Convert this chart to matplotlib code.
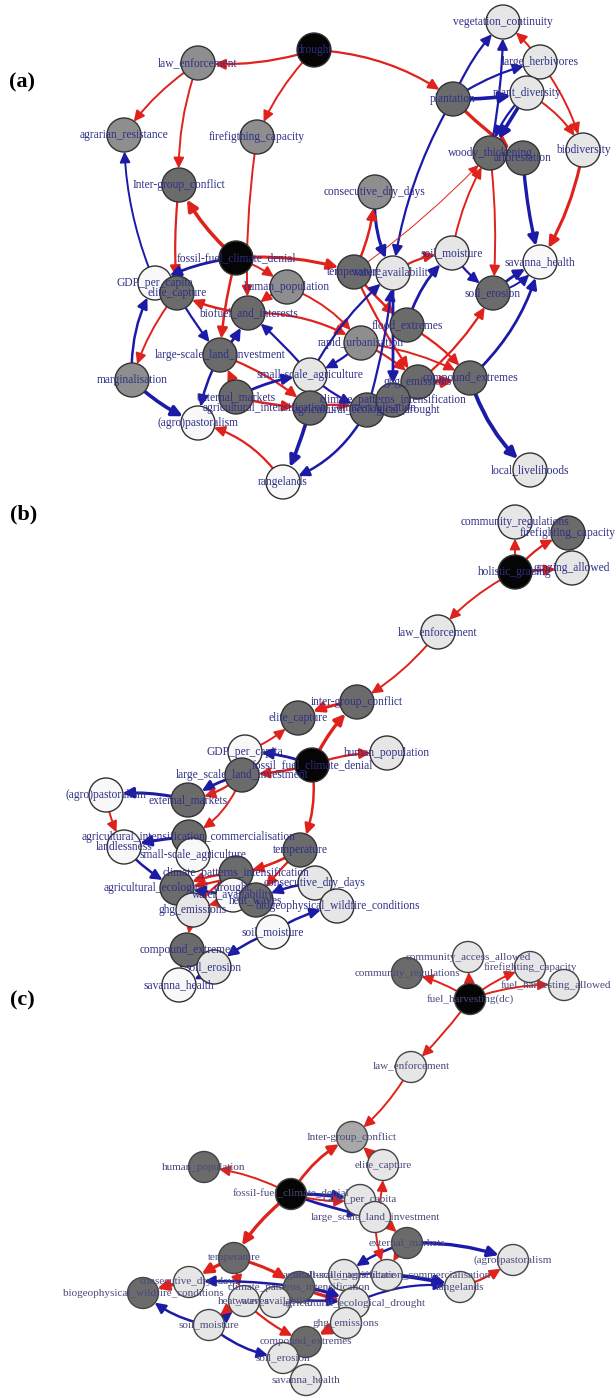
import matplotlib
matplotlib.use("Agg")
import matplotlib.pyplot as plt
from matplotlib.patches import Circle, FancyArrowPatch

# ---------------- data ----------------
SHADES = {"k": "#050505", "d": "#6b6b6b", "g": "#8e8e8e", "m": "#a8a8a8",
          "l": "#e6e6e6", "w": "#f8f8f8"}
SIGN_COLORS = {1: "#e0221c", -1: "#1b1ba8"}

# Panel (a)
a_ids = ["drought", "law", "agrarian", "firefight", "intergroup", "plantation",
         "vegcont", "herbiv", "plantdiv", "woody", "affor", "biodiv", "cdd",
         "fossil", "gdp", "elite", "humpop", "biofuel", "temp", "water",
         "soilmoist", "savanna", "soileros", "flood", "urban", "lsli", "margin",
         "smallag", "extmkt", "agcomm", "ghg", "compound", "ecodrought", "cpi",
         "pastoral", "rangelands", "livelihoods"]
a_labels = ["drought", "law_enforcement", "agrarian_resistance", "firefigthing_capacity",
            "Inter-group_conflict", "plantation", "vegetation_continuity", "large_herbivores",
            "plant_diversity", "woody_thickening", "afforestation", "biodiversity",
            "consecutive_dry_days", "fossil-fuel_climate_denial", "GDP_per_capita",
            "elite_capture", "human_population", "biofuel_and_interests", "temperature",
            "water_availability", "soil_moisture", "savanna_health", "soil_erosion",
            "flood_extremes", "rapid_urbanisation", "large-scale_land_investment",
            "marginalisation", "small-scale_agriculture", "external_markets",
            "agricultural_intensification_commercialisation", "ghg_emissions",
            "compound_extremes", "agricultural_ecological_drought",
            "climate_patterns_intensification", "(agro)pastoralism", "rangelands",
            "local_livelihoods"]
a_x = [314, 198, 124, 257, 179, 453, 503, 540, 527, 490, 523, 583, 375,
       236, 155, 177, 287, 248, 354, 393, 452, 540, 493, 407, 361, 220, 132,
       310, 236, 310, 418, 470, 367, 393, 198, 283, 530]
a_y = [50, 63, 135, 137, 185, 99, 22, 62, 93, 153, 158, 150, 192,
       258, 283, 293, 287, 313, 272, 273, 253, 262, 293, 325, 343, 355, 380,
       375, 397, 408, 382, 378, 410, 400, 423, 482, 470]
a_shade = ["k", "g", "g", "g", "d", "d", "l", "l", "l", "d", "d", "l", "g",
           "k", "w", "d", "g", "d", "d", "l", "l", "w", "d", "d", "g", "d", "g",
           "l", "d", "d", "d", "d", "d", "d", "w", "w", "l"]
a_edges = [
    ("drought", "law", 1, 1.6, -0.1), ("drought", "firefight", 1, 1.4, 0.1),
    ("drought", "plantation", 1, 1.6, -0.15), ("law", "agrarian", 1, 1.4, 0.1),
    ("law", "intergroup", 1, 1.4, 0.1), ("firefight", "biofuel", 1, 1.4, 0.05),
    ("intergroup", "elite", 1, 1.6, 0.05), ("fossil", "intergroup", 1, 2.6, -0.1),
    ("gdp", "agrarian", -1, 1.4, -0.1), ("plantation", "vegcont", -1, 1.6, -0.1),
    ("plantation", "herbiv", -1, 1.6, -0.1), ("plantation", "plantdiv", -1, 2.6, 0.05),
    ("plantation", "water", -1, 1.6, 0.1), ("plantation", "affor", 1, 2.4, 0.05),
    ("plantdiv", "woody", -1, 2.6, 0.0), ("plantdiv", "woody", -1, 1.6, 0.15),
    ("woody", "vegcont", -1, 1.6, 0.05), ("herbiv", "vegcont", 1, 1.4, 0.1),
    ("herbiv", "biodiv", 1, 1.4, -0.1), ("plantdiv", "biodiv", 1, 1.4, -0.15),
    ("affor", "savanna", -1, 2.4, 0.05), ("biodiv", "savanna", 1, 2.2, -0.1),
    ("temp", "woody", 1, 0.7, 0.05), ("cdd", "water", -1, 2.2, 0.15),
    ("temp", "cdd", 1, 1.8, 0.1), ("soilmoist", "woody", 1, 1.4, -0.1),
    ("woody", "soileros", 1, 1.4, -0.05), ("water", "soilmoist", 1, 1.6, -0.15),
    ("soilmoist", "soileros", -1, 1.6, 0.1), ("soileros", "savanna", -1, 2.0, -0.1),
    ("soileros", "savanna", -1, 1.4, 0.2), ("fossil", "temp", 1, 2.2, -0.1),
    ("fossil", "humpop", 1, 1.4, -0.1), ("fossil", "gdp", -1, 2.0, 0.1),
    ("fossil", "lsli", 1, 1.8, 0.05), ("humpop", "biofuel", 1, 1.4, 0.1),
    ("biofuel", "elite", 1, 1.8, -0.1), ("lsli", "biofuel", -1, 2.0, 0.1),
    ("humpop", "urban", 1, 1.4, -0.15), ("biofuel", "urban", 1, 1.6, -0.15),
    ("temp", "flood", 1, 1.8, 0.05), ("temp", "ghg", 1, 1.6, 0.05),
    ("flood", "compound", 1, 1.6, -0.1), ("urban", "ghg", 1, 1.6, -0.1),
    ("urban", "compound", 1, 1.4, -0.1), ("ghg", "compound", 1, 2.6, 0.05),
    ("ghg", "soileros", 1, 1.6, 0.1), ("compound", "savanna", -1, 2.0, 0.15),
    ("compound", "livelihoods", -1, 2.8, 0.15), ("flood", "soilmoist", -1, 2.0, -0.15),
    ("smallag", "water", -1, 1.6, -0.1), ("urban", "smallag", -1, 1.6, -0.1),
    ("smallag", "biofuel", -1, 1.6, 0.05), ("extmkt", "lsli", 1, 1.6, 0.1),
    ("lsli", "agcomm", 1, 1.6, -0.1), ("elite", "lsli", -1, 1.6, 0.05),
    ("elite", "margin", 1, 1.4, 0.1), ("margin", "gdp", -1, 1.8, -0.15),
    ("margin", "pastoral", -1, 2.6, 0.1), ("extmkt", "smallag", -1, 2.0, -0.1),
    ("extmkt", "agcomm", 1, 1.8, 0.05), ("lsli", "pastoral", -1, 1.8, 0.1),
    ("agcomm", "rangelands", -1, 2.6, -0.05), ("rangelands", "pastoral", 1, 1.6, 0.2),
    ("ecodrought", "rangelands", -1, 1.8, -0.2), ("ecodrought", "water", -1, 1.6, 0.05),
    ("water", "cpi", -1, 2.0, 0.0), ("agcomm", "ecodrought", 1, 1.6, -0.15),
    ("smallag", "ecodrought", -1, 1.6, 0.1),
]

# Panel (b)
b_ids = ["commreg", "firefight", "holistic", "grazing", "law", "intergroup", "elite",
         "gdp", "fossil", "humpop", "lsli", "extmkt", "pastoral", "agint", "landless",
         "smallag", "temp", "cpi", "ecodrought", "water", "heat", "cdd", "biogeo",
         "ghg", "soilmoist", "compound", "soileros", "savanna"]
b_labels = ["community_regulations", "firefighting_capacity", "holistic_grazing",
            "grazing_allowed", "law_enforcement", "inter-group_conflict", "elite_capture",
            "GDP_per_capita", "fossil_fuel_climate_denial", "human_population",
            "large_scale_land_investment", "external_markets", "(agro)pastoralism",
            "agricultural_intensification_commercialisation", "landlessness",
            "small-scale_agriculture", "temperature", "climate_patterns_intensification",
            "agricultural_ecological_drought", "water_availability", "heat_waves",
            "consecutive_dry_days", "biogeophysical_wildfire_conditions", "ghg_emissions",
            "soil_moisture", "compound_extremes", "soil_erosion", "savanna_health"]
b_x = [515, 568, 515, 572, 438, 357, 298, 245, 312, 387, 242, 188, 106, 189, 124,
       193, 300, 236, 177, 233, 256, 315, 337, 193, 273, 187, 214, 179]
b_y = [522, 533, 572, 568, 632, 702, 718, 752, 765, 753, 775, 800, 795, 837, 847,
       855, 850, 873, 888, 895, 900, 883, 906, 910, 932, 950, 967, 985]
b_shade = ["l", "d", "k", "l", "l", "d", "d", "w", "k", "l", "d", "d", "w", "d", "w",
           "w", "d", "d", "d", "w", "d", "l", "l", "l", "w", "d", "l", "w"]
b_edges = [
    ("holistic", "commreg", 1, 1.4, 0.0), ("holistic", "firefight", 1, 1.6, -0.15),
    ("holistic", "grazing", 1, 1.8, 0.0), ("holistic", "law", 1, 1.4, 0.1),
    ("law", "intergroup", 1, 1.4, -0.1), ("intergroup", "elite", 1, 2.2, 0.1),
    ("gdp", "elite", 1, 1.4, 0.1), ("fossil", "intergroup", 1, 2.4, -0.1),
    ("fossil", "humpop", 1, 1.6, -0.1), ("fossil", "gdp", -1, 2.0, 0.1),
    ("fossil", "lsli", 1, 1.8, -0.05), ("lsli", "extmkt", -1, 2.0, 0.1),
    ("lsli", "extmkt", 1, 1.6, -0.15), ("extmkt", "pastoral", -1, 2.2, 0.1),
    ("pastoral", "landless", 1, 1.4, 0.1), ("agint", "landless", -1, 2.2, 0.05),
    ("lsli", "agint", 1, 1.4, -0.2), ("fossil", "temp", 1, 1.8, -0.15),
    ("temp", "cpi", 1, 1.6, -0.1), ("temp", "ecodrought", 1, 1.6, -0.1),
    ("landless", "ecodrought", -1, 1.8, 0.1), ("cpi", "ecodrought", 1, 1.8, 0.1),
    ("water", "ecodrought", -1, 2.0, 0.0), ("cdd", "heat", -1, 1.8, 0.1),
    ("cpi", "compound", 1, 1.6, 0.3), ("soilmoist", "biogeo", -1, 1.8, -0.1),
    ("soilmoist", "soileros", -1, 1.8, 0.1), ("compound", "savanna", -1, 1.6, 0.1),
    ("soileros", "savanna", -1, 1.8, -0.1), ("temp", "heat", 1, 1.6, 0.05),
    ("heat", "ghg", 1, 1.4, 0.1),
]

# Panel (c)
c_ids = ["access", "commreg", "firefight", "fuelallowed", "fuelharv", "law",
         "intergroup", "elite", "humpop", "fossil", "gdp", "lsli", "extmkt",
         "pastoral", "rangelands", "agint", "smallag", "temp", "cdd", "biogeo", "cpi",
         "heat", "water", "ecodrought", "soilmoist", "ghg", "compound", "soileros",
         "savanna"]
c_labels = ["community_access_allowed", "community_regulations", "firefighting_capacity",
            "fuel_harvesting_allowed", "fuel_harvesting(dc)", "law_enforcement",
            "Inter-group_conflict", "elite_capture", "human_population",
            "fossil-fuel_climate_denial", "GDP_per_capita", "large_scale_land_investment",
            "external_markets", "(agro)pastoralism", "rangelands",
            "agricultural_intensification_commercialisation", "small-scale_agriculture",
            "temperature", "consecutive_dry_days", "biogeophysical_wildfire_conditions",
            "climate_patterns_intensification", "heat_waves", "water_availability",
            "agricultural_ecological_drought", "soil_moisture", "ghg_emissions",
            "compound_extremes", "soil_erosion", "savanna_health"]
c_x = [468, 407, 530, 564, 470, 411, 352, 383, 204, 291, 360, 375, 407, 513, 460,
       387, 344, 234, 189, 143, 299, 244, 275, 354, 209, 346, 306, 283, 306]
c_y = [957, 973, 967, 985, 999, 1067, 1137, 1165, 1167, 1194, 1200, 1217, 1243,
       1260, 1287, 1275, 1275, 1258, 1282, 1293, 1287, 1301, 1302, 1303, 1325,
       1323, 1342, 1358, 1380]
c_label_dx = [0, 0, 0, -8, 0, 0, 0, 0, 0, 0, 0, 0, 0, 0, 0,
              0, 0, 0, 0, 0, 0, 0, 0, 0, 0, 0, 0, 0, 0]
c_shade = ["l", "d", "l", "l", "k", "l", "m", "l", "d", "k", "l", "l", "d", "l", "l",
           "l", "l", "d", "l", "d", "d", "l", "l", "l", "l", "l", "d", "l", "l"]
c_edges = [
    ("fuelharv", "commreg", 1, 1.4, 0.1), ("fuelharv", "access", 1, 1.4, 0.0),
    ("fuelharv", "firefight", 1, 1.4, -0.1), ("fuelharv", "fuelallowed", 1, 1.4, -0.1),
    ("fuelharv", "law", 1, 1.4, -0.05), ("law", "intergroup", 1, 1.4, -0.1),
    ("elite", "intergroup", 1, 1.8, 0.0), ("fossil", "intergroup", 1, 2.0, -0.15),
    ("fossil", "humpop", 1, 1.4, 0.1), ("fossil", "gdp", -1, 2.4, -0.05),
    ("fossil", "lsli", -1, 2.0, 0.05), ("fossil", "gdp", 1, 1.4, 0.1),
    ("lsli", "elite", 1, 1.4, 0.1), ("lsli", "extmkt", 1, 1.4, -0.1),
    ("extmkt", "pastoral", -1, 2.4, -0.1), ("extmkt", "agint", 1, 1.4, 0.1),
    ("rangelands", "pastoral", 1, 1.6, 0.1), ("agint", "rangelands", -1, 2.4, -0.05),
    ("smallag", "rangelands", -1, 1.6, -0.1), ("ecodrought", "rangelands", -1, 1.6, -0.15),
    ("extmkt", "smallag", -1, 1.8, 0.1), ("fossil", "temp", 1, 2.4, 0.1),
    ("temp", "cdd", 1, 2.4, 0.05), ("cdd", "biogeo", 1, 2.4, 0.05),
    ("temp", "heat", 1, 1.6, 0.05), ("temp", "cpi", 1, 2.2, -0.1),
    ("cpi", "ecodrought", 1, 2.4, 0.05), ("cpi", "ecodrought", -1, 2.4, -0.1),
    ("soilmoist", "biogeo", -1, 1.8, -0.15), ("soilmoist", "heat", -1, 1.8, 0.1),
    ("heat", "soilmoist", 1, 1.6, 0.1), ("heat", "compound", 1, 1.6, 0.1),
    ("ghg", "compound", 1, 2.6, 0.05), ("ecodrought", "ghg", 1, 1.4, 0.1),
    ("soilmoist", "soileros", -1, 1.8, 0.15), ("soileros", "savanna", -1, 1.6, 0.1),
    ("water", "ecodrought", -1, 1.8, -0.05), ("cpi", "cdd", -1, 1.8, 0.05),
    ("lsli", "agint", 1, 1.4, 0.1),
]

panel_letters = ["(a)", "(b)", "(c)"]
panel_letter_x = [22, 24, 22]
panel_letter_y = [82, 514, 1000]

# ---------------- drawing ----------------
W, H = 616, 1399
fig = plt.figure(figsize=(W / 100, H / 100), dpi=100)
ax = fig.add_axes([0, 0, 1, 1])
ax.set_xlim(0, W)
ax.set_ylim(H, 0)
ax.axis("off")

SERIF = ["Liberation Serif", "DejaVu Serif"]


def draw_panel(ids, labels, xs, ys, shades, edges, radius, label_color, edge_color,
               label_dx=None, fs=8.3):
    circles = {}
    for i, nid in enumerate(ids):
        c = Circle((xs[i], ys[i]), radius, facecolor=SHADES[shades[i]],
                   edgecolor=edge_color, linewidth=1.0, zorder=3 + i * 0.001)
        circles[nid] = c
    for src, dst, sign, lw, rad in edges:
        a = circles[src]
        b = circles[dst]
        arr = FancyArrowPatch(a.center, b.center, patchA=a, patchB=b,
                              shrinkA=0, shrinkB=0,
                              connectionstyle=f"arc3,rad={rad}",
                              arrowstyle="-|>,head_length=0.45,head_width=0.22",
                              mutation_scale=14, color=SIGN_COLORS[sign],
                              linewidth=lw, zorder=2)
        ax.add_patch(arr)
    for c in circles.values():
        ax.add_patch(c)
    for i, lab in enumerate(labels):
        dx = label_dx[i] if label_dx else 0
        ax.text(xs[i] + dx, ys[i], lab, ha="center", va="center", fontsize=fs,
                family=SERIF, color=label_color, zorder=6)


draw_panel(a_ids, a_labels, a_x, a_y, a_shade, a_edges, 17, "#2e2e86", "#333333")
draw_panel(b_ids, b_labels, b_x, b_y, b_shade, b_edges, 17, "#2e2e86", "#333333")
draw_panel(c_ids, c_labels, c_x, c_y, c_shade, c_edges, 15.5, "#4a4a7c", "#444444",
           label_dx=c_label_dx, fs=8.0)

for lt, lx, ly in zip(panel_letters, panel_letter_x, panel_letter_y):
    ax.text(lx, ly, lt, ha="center", va="center", fontsize=16, fontweight="bold",
            family=SERIF, color="black", zorder=7)

fig.savefig("out.png", dpi=100)
